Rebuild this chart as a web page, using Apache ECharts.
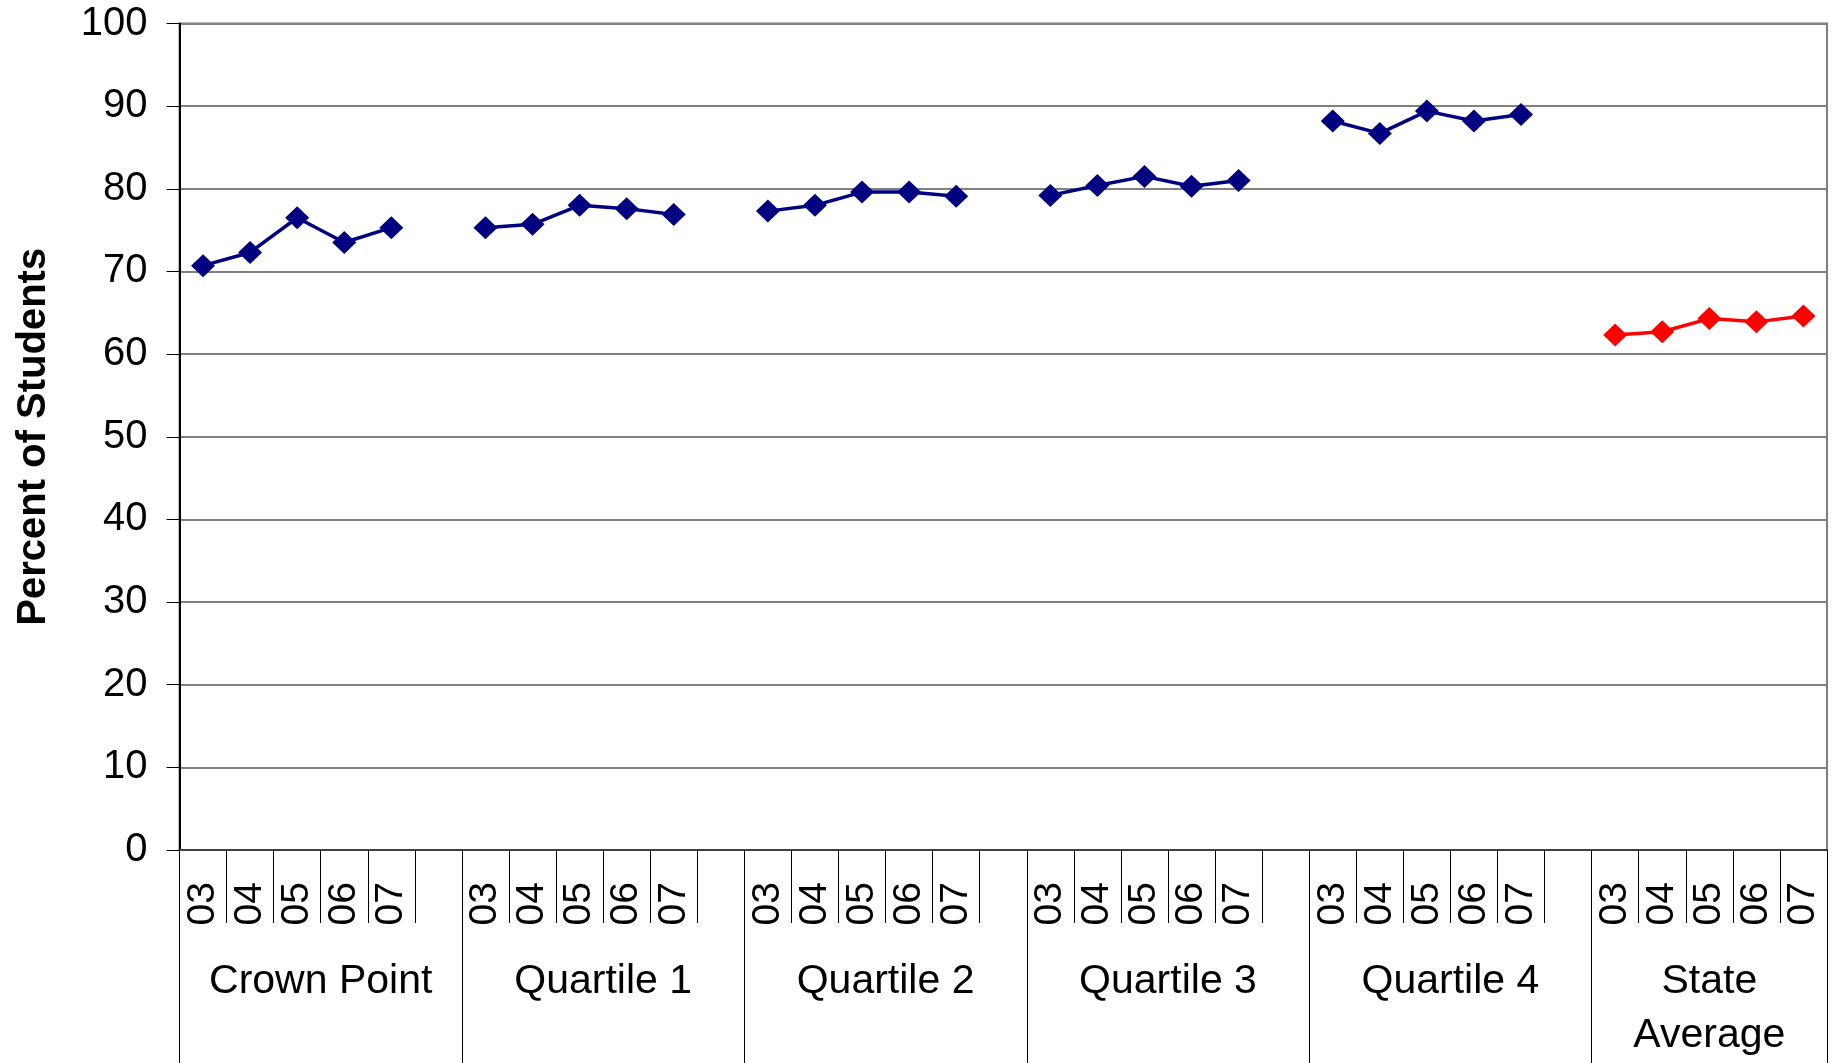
<!DOCTYPE html>
<html>
<head>
<meta charset="utf-8">
<script src="https://cdn.jsdelivr.net/npm/echarts@6/dist/echarts.min.js"></script>
<style>
html,body{margin:0;padding:0;background:#fff;}
#chart{width:1835px;height:1063px;}
</style>
</head>
<body>
<div id="chart"></div>
<script>
// ---- data ----
const years = ['03', '04', '05', '06', '07'];
const groups = ['Crown Point', 'Quartile 1', 'Quartile 2', 'Quartile 3', 'Quartile 4', 'State\nAverage'];
const crownPoint   = [70.7, 72.3, 76.5, 73.5, 75.3];
const quartile1    = [75.3, 75.7, 78.0, 77.6, 76.9];
const quartile2    = [77.3, 78.0, 79.6, 79.6, 79.1];
const quartile3    = [79.2, 80.4, 81.5, 80.3, 81.0];
const quartile4    = [88.2, 86.7, 89.4, 88.2, 89.0];
const stateAverage = [62.3, 62.7, 64.3, 63.9, 64.6];
const yMin = 0, yMax = 100, yStep = 10;
const yAxisTitle = 'Percent of Students';

// ---- build axis categories (year slots with a blank slot between groups) ----
const districtSeries = [crownPoint, quartile1, quartile2, quartile3, quartile4];
const categories = [];
const blueData = [];
const redData = [];
const groupStartSlot = [];
groups.forEach((g, gi) => {
  groupStartSlot.push(categories.length);
  years.forEach((y, yi) => {
    categories.push(gi + '|' + y);
    if (gi < districtSeries.length) {
      blueData.push(districtSeries[gi][yi]);
      redData.push(null);
    } else {
      blueData.push(null);
      redData.push(stateAverage[yi]);
    }
  });
  if (gi < groups.length - 1) {
    categories.push(gi + '|blank');
    blueData.push(null);
    redData.push(null);
  }
});
const nSlots = categories.length;
groupStartSlot.push(nSlots);

// half-slot positions for group axis (boundaryGap false)
const halfPositions = [];
for (let i = 0; i <= nSlots * 2; i++) halfPositions.push('h' + i);
const groupLabelAt = {};
const groupBoundaryAt = {};
for (let gi = 0; gi < groups.length; gi++) {
  const a = groupStartSlot[gi], b = groupStartSlot[gi + 1];
  groupLabelAt[a + b] = groups[gi]; // (a+b)/2 slots -> a+b half-slots
  groupBoundaryAt[a * 2] = true;
}
groupBoundaryAt[nSlots * 2] = true;

const FONT = "'Liberation Sans', Arial, Helvetica, sans-serif";

const chart = echarts.init(document.getElementById('chart'), null, {renderer: 'canvas'});
chart.setOption({
  animation: false,
  backgroundColor: '#ffffff',
  grid: {
    left: 179.5, right: 8, top: 23.5, bottom: 210.5,
    show: true, borderColor: '#808080', borderWidth: 2, backgroundColor: 'transparent'
  },
  xAxis: [
    {
      type: 'category',
      data: categories,
      position: 'bottom',
      boundaryGap: true,
      axisLine: {show: true, lineStyle: {color: '#404040', width: 2}},
      axisTick: {show: true, interval: 0, length: 73, lineStyle: {color: '#000', width: 1}},
      axisLabel: {
        interval: 0, rotate: 90, margin: 32,
        fontSize: 39, color: '#000', fontFamily: FONT,
        formatter: v => { const s = v.split('|')[1]; return s === 'blank' ? '' : s; }
      },
      splitLine: {show: false}
    },
    {
      type: 'category',
      data: halfPositions,
      position: 'bottom',
      boundaryGap: false,
      axisLine: {show: false},
      axisTick: {
        show: true, length: 215,
        interval: (i) => !!groupBoundaryAt[i],
        lineStyle: {color: '#000', width: 1}
      },
      axisLabel: {
        interval: 0, margin: 105,
        fontSize: 41, lineHeight: 54, color: '#000', fontFamily: FONT, align: 'center',
        formatter: (v, i) => groupLabelAt[i] || ''
      },
      splitLine: {show: false}
    }
  ],
  yAxis: {
    type: 'value',
    min: yMin, max: yMax, interval: yStep,
    name: yAxisTitle,
    nameLocation: 'middle',
    nameRotate: 90,
    nameGap: 126,
    nameTextStyle: {fontSize: 40, fontWeight: 'bold', color: '#000', fontFamily: FONT},
    axisLine: {show: true, lineStyle: {color: '#000', width: 2}},
    axisTick: {show: true, inside: false, length: 13, lineStyle: {color: '#000', width: 1}},
    axisLabel: {margin: 32, fontSize: 40, color: '#000', fontFamily: FONT},
    splitLine: {show: true, lineStyle: {color: '#808080', width: 2}}
  },
  series: [
    {
      type: 'line',
      data: blueData,
      xAxisIndex: 0,
      connectNulls: false,
      symbol: 'diamond',
      symbolSize: [24, 23],
      itemStyle: {color: '#000080'},
      lineStyle: {color: '#000080', width: 3.5},
      z: 3
    },
    {
      type: 'line',
      data: redData,
      xAxisIndex: 0,
      connectNulls: false,
      symbol: 'diamond',
      symbolSize: [24, 23],
      itemStyle: {color: '#ff0000'},
      lineStyle: {color: '#ff0000', width: 3.5},
      z: 3
    }
  ]
});
</script>
</body>
</html>
